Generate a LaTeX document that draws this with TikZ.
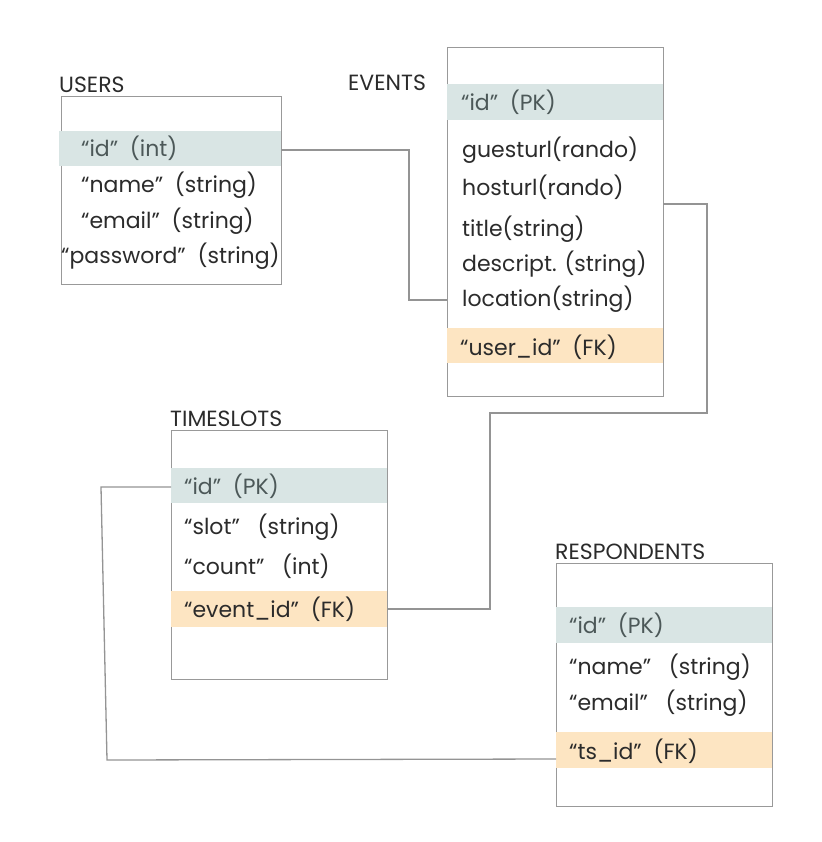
\documentclass[tikz,border=0pt]{standalone}
\usepackage{fontspec}
\setmainfont{Poppins}
\begin{document}
\begin{tikzpicture}[x=1pt,y=-1pt,
  tbl/.style={draw=black!40, line width=0.8pt, fill=white},
  pk/.style={fill=pkblue, draw=none, inner sep=0pt},
  fk/.style={fill=fkorange, draw=none, inner sep=0pt},
  txt/.style={anchor=west, inner sep=0pt, font=\fontsize{22}{26}\selectfont, text=textdark},
  idtxt/.style={txt, text=idgrey},
  ttl/.style={anchor=south west, inner sep=0pt, font=\fontsize{22}{26}\selectfont, text=textdark},
  link/.style={draw=black!42, line width=1.3pt}]
\definecolor{pkblue}{HTML}{D9E5E4}
\definecolor{fkorange}{HTML}{FDE5C2}
\definecolor{textdark}{HTML}{2B2B2B}
\definecolor{idgrey}{HTML}{4C5858}
\useasboundingbox (0,0) rectangle (821,842);
% USERS
\node[ttl] (ut) at (59,93) {USERS};
\draw[tbl] (61,96) rectangle (281,284);
\node[pk, minimum width=222pt, minimum height=35pt] (uid) at (170,148.5) {};
\coordinate (uout) at (281,150);
\node[idtxt] at (81,148) {“id”\ \ (int)};
\node[txt] at (81,185) {“name”\ \ (string)};
\node[txt] at (81,221) {“email”\ \ (string)};
\node[txt] at (61,256) {“password”\ \ (string)};
% EVENTS
\node[ttl] (et) at (348,91) {EVENTS};
\draw[tbl] (447,47) rectangle (663,396);
\coordinate (evr) at (663,204);
\coordinate (evl) at (447,300);
\node[pk, minimum width=216pt, minimum height=36pt] (eid) at (555,102) {};
\node[idtxt] at (461,102) {“id”\ \ (PK)};
\node[txt] at (462,150) {guesturl(rando)};
\node[txt] at (462,187) {hosturl(rando)};
\node[txt] at (462,229) {title(string)};
\node[txt] at (462,264) {descript. (string)};
\node[txt] (eloc) at (462,299) {location(string)};
\node[fk, minimum width=216pt, minimum height=35pt] (efk) at (555,345.5) {};
\node[txt] at (460,347) {“user\_id”\ \ (FK)};
% TIMESLOTS
\node[ttl] (tt) at (170,427) {TIMESLOTS};
\draw[tbl] (171,430) rectangle (387,679);
\node[pk, minimum width=216pt, minimum height=35pt] (tid) at (279,485.5) {};
\coordinate (tin) at (171,487);
\node[idtxt] at (184,486) {“id”\ \ (PK)};
\node[txt] at (184,527) {“slot”\ \ \ (string)};
\node[txt] at (184,566) {“count”\ \ \ (int)};
\node[fk, minimum width=216pt, minimum height=36pt] (tfk) at (279,609) {};
\node[txt] at (184,609) {“event\_id”\ \ (FK)};
% RESPONDENTS
\node[ttl] (rt) at (555,560) {RESPONDENTS};
\draw[tbl] (556,563) rectangle (772,806);
\node[pk, minimum width=216pt, minimum height=36pt] (rid) at (664,625) {};
\node[idtxt] at (569,625) {“id”\ \ (PK)};
\node[txt] at (569,667) {“name”\ \ \ (string)};
\node[txt] at (569,703) {“email”\ \ \ (string)};
\node[fk, minimum width=216pt, minimum height=36pt] (rfk) at (664,750) {};
\coordinate (rin) at (556,759);
\node[txt] at (569,751) {“ts\_id”\ \ (FK)};
% connectors
\draw[link] (uout) -- (409,150) -- (409,300) -- (evl);
\draw[link] (tfk.east) -- (490,609) -- (490,413) -- (707,413) -- (707,204) -- (evr);
\draw[link] (tin) -- (101,487) -- (107,760) -- (rin);
\end{tikzpicture}
\end{document}
